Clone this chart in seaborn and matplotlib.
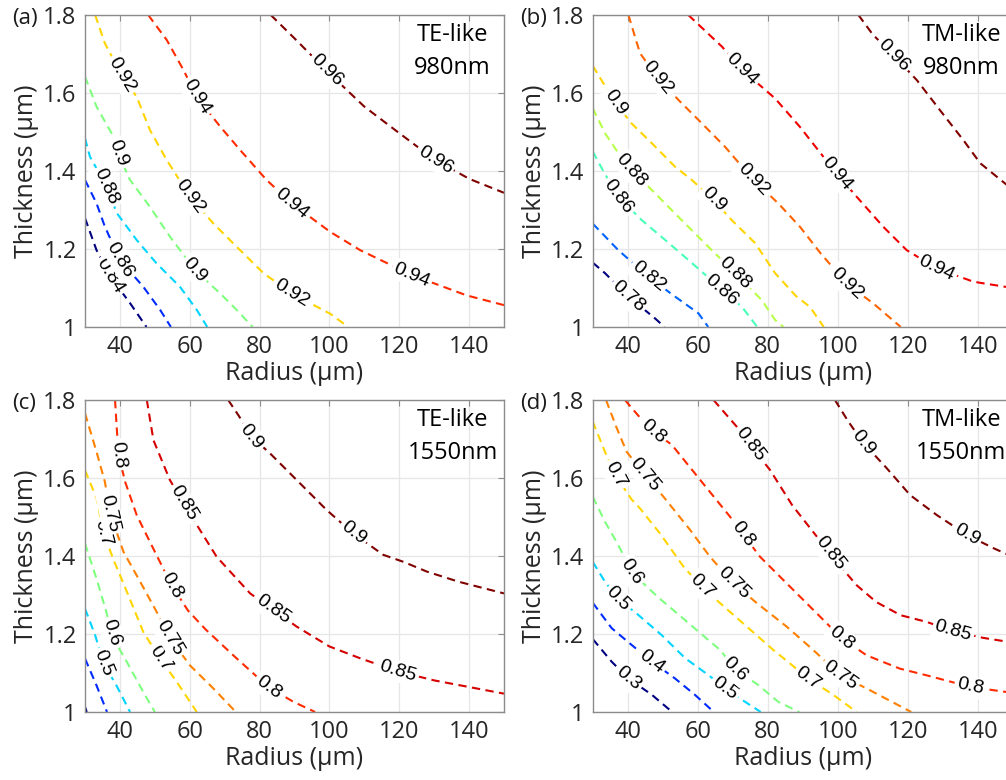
import numpy as np
import pandas as pd
import matplotlib
matplotlib.use("Agg")
import matplotlib.pyplot as plt
from matplotlib.ticker import FuncFormatter
import seaborn as sns

# Contour lines: level -> (radius um, thickness um)
TE980 = {
    0.84: ([30, 33.3, 37.2, 42.9, 47.6], [1.279, 1.197, 1.13, 1.061, 1.0]),
    0.86: ([30, 33.3, 35.7, 40, 46.7, 51.5, 54.6], [1.377, 1.317, 1.257, 1.172, 1.103, 1.044, 1.0]),
    0.88: ([30, 31.4, 36.2, 39.1, 44.8, 50.5, 57.2, 62, 65],
           [1.484, 1.437, 1.36, 1.292, 1.223, 1.163, 1.103, 1.044, 1.0]),
    0.90: ([30, 33.3, 37.6, 39.5, 42.9, 48.6, 54.3, 61.5, 68.7, 73.4, 78],
           [1.642, 1.565, 1.497, 1.445, 1.377, 1.308, 1.232, 1.146, 1.086, 1.044, 1.0]),
    0.92: ([32.9, 35.7, 40.5, 44.8, 48.6, 53.4, 60.1, 66.7, 73.4, 81.1, 89.2, 100.2, 105.4],
           [1.8, 1.727, 1.646, 1.59, 1.505, 1.428, 1.334, 1.266, 1.206, 1.138, 1.086, 1.034, 1.0]),
    0.94: ([48.1, 53.4, 58.2, 62, 68.7, 74.4, 82, 89.2, 100.2, 108.8, 123.6, 139.3, 150],
           [1.8, 1.736, 1.659, 1.59, 1.514, 1.454, 1.377, 1.317, 1.244, 1.197, 1.133, 1.081, 1.056]),
    0.96: ([83.2, 90, 100, 110, 120, 130, 140, 150],
           [1.8, 1.74, 1.65, 1.565, 1.497, 1.43, 1.38, 1.344]),
}
TE980_LABELS = [(0.84, 37.2), (0.86, 40), (0.88, 36.2), (0.90, 39.5), (0.90, 61.5),
                (0.92, 40.5), (0.92, 60.1), (0.92, 89.2), (0.94, 62), (0.94, 89.2),
                (0.94, 123.6), (0.96, 99.2), (0.96, 130.3)]

TM980 = {
    0.78: ([30, 33.5, 40.2, 47.8, 50.5], [1.165, 1.138, 1.078, 1.022, 1.0]),
    0.82: ([30, 37.3, 45.9, 53.5, 60.2, 63], [1.265, 1.197, 1.129, 1.078, 1.035, 1.0]),
    0.86: ([30, 33, 37.3, 44, 50.7, 57.3, 62, 66.9, 72.6, 77],
           [1.45, 1.4, 1.334, 1.274, 1.223, 1.172, 1.135, 1.095, 1.052, 1.0]),
    0.88: ([30, 33.5, 37, 41.1, 47.8, 53.5, 59.2, 64, 70.7, 78.3, 82.1, 84.5],
           [1.561, 1.497, 1.45, 1.403, 1.343, 1.291, 1.24, 1.197, 1.138, 1.069, 1.018, 1.0]),
    0.90: ([30, 36.4, 41.1, 46.9, 53.5, 58.3, 64.5, 69.7, 76.4, 82.1, 88, 92.1, 96],
           [1.67, 1.575, 1.522, 1.471, 1.411, 1.377, 1.326, 1.274, 1.215, 1.138, 1.08, 1.051, 1.0]),
    0.92: ([40.2, 43.5, 48.7, 54.5, 60.2, 67.8, 75.9, 83, 89.2, 95, 102.6, 110.2, 118],
           [1.8, 1.702, 1.638, 1.582, 1.531, 1.462, 1.377, 1.317, 1.257, 1.19, 1.111, 1.06, 1.0]),
    0.94: ([57.3, 66.9, 72.6, 82.1, 89.2, 99.7, 105.4, 113, 119.7, 128.3, 138.8, 150],
           [1.8, 1.719, 1.66, 1.586, 1.513, 1.393, 1.334, 1.257, 1.197, 1.15, 1.116, 1.1]),
    0.96: ([105.9, 110, 115.9, 122.6, 129.2, 135.9, 140.7, 147.8, 150],
           [1.8, 1.75, 1.697, 1.633, 1.556, 1.479, 1.42, 1.368, 1.352]),
}
TM980_LABELS = [(0.78, 40.2), (0.82, 45.9), (0.86, 37.3), (0.86, 66.9), (0.88, 41.1),
                (0.88, 70.7), (0.90, 36.4), (0.90, 64.5), (0.92, 48.7), (0.92, 75.9),
                (0.92, 102.6), (0.94, 72.6), (0.94, 99.7), (0.94, 128.3), (0.96, 115.9)]

TE1550 = {
    0.30: ([30, 30.5], [1.013, 1.0]),
    0.40: ([30, 33.3, 36.3], [1.137, 1.068, 1.0]),
    0.50: ([30, 32.9, 35.3, 39, 42.9], [1.265, 1.197, 1.125, 1.068, 1.0]),
    0.60: ([30, 33.3, 36, 38, 42, 46.7, 50], [1.432, 1.342, 1.26, 1.19, 1.128, 1.051, 1.0]),
    0.70: ([30, 33.3, 35.3, 38, 42, 46.7, 51.5, 56.3, 62],
           [1.62, 1.548, 1.46, 1.394, 1.308, 1.205, 1.137, 1.077, 1.0]),
    0.75: ([30, 33.3, 35.7, 37.2, 41, 45.8, 50.5, 54.3, 60, 66.8, 73.2],
           [1.766, 1.667, 1.59, 1.51, 1.411, 1.334, 1.257, 1.19, 1.12, 1.06, 1.0]),
    0.80: ([38.6, 39.1, 39.6, 41.5, 44.8, 48.6, 54.8, 59.5, 64.5, 72.5, 82.5, 89.7, 95.9],
           [1.8, 1.727, 1.66, 1.59, 1.505, 1.436, 1.325, 1.26, 1.212, 1.145, 1.064, 1.026, 1.0]),
    0.85: ([47.7, 49.6, 54.3, 58.2, 62.9, 67.7, 77.3, 83.9, 90.6, 100, 109, 120, 130, 150],
           [1.8, 1.697, 1.595, 1.535, 1.467, 1.398, 1.304, 1.262, 1.219, 1.168, 1.137,
            1.103, 1.081, 1.047]),
    0.90: ([71, 74, 77.7, 83, 90.6, 99.2, 106.8, 115.4, 121.2, 127.9, 137, 150],
           [1.8, 1.76, 1.706, 1.663, 1.595, 1.518, 1.458, 1.403, 1.385, 1.36, 1.334, 1.304]),
}
TE1550_LABELS = [(0.50, 35.3), (0.60, 37.6), (0.70, 35.3), (0.70, 51.5), (0.75, 37.2),
                 (0.75, 54.3), (0.80, 39.6), (0.80, 54.8), (0.80, 82.5), (0.85, 58.2),
                 (0.85, 83.9), (0.85, 119.7), (0.90, 77.7), (0.90, 106.8)]

TM1550 = {
    0.30: ([30, 35.4, 40.2, 46.9, 52.7], [1.187, 1.129, 1.086, 1.044, 1.0]),
    0.40: ([30, 35.4, 41.1, 46.9, 53.5, 59.2, 64.6], [1.28, 1.215, 1.172, 1.129, 1.086, 1.044, 1.0]),
    0.50: ([30, 33.5, 37.3, 43, 49.7, 56.4, 63, 67.8, 72, 78],
           [1.385, 1.334, 1.29, 1.249, 1.197, 1.138, 1.095, 1.061, 1.035, 1.0]),
    0.60: ([30, 33.5, 37.3, 41.1, 45, 49.2, 54.5, 59.7, 66.4, 70.7, 77.3, 83, 89],
           [1.552, 1.488, 1.428, 1.36, 1.325, 1.29, 1.25, 1.21, 1.159, 1.11, 1.069, 1.026, 1.0]),
    0.70: ([30, 33.5, 36.4, 41.1, 43.5, 49.2, 55.9, 61.1, 66.4, 74, 81.6, 91.6, 98.7, 105.4],
           [1.745, 1.667, 1.608, 1.545, 1.522, 1.458, 1.373, 1.321, 1.279, 1.219, 1.159,
            1.086, 1.044, 1.0]),
    0.75: ([33.8, 36.9, 39.7, 45, 50.2, 57.8, 63.5, 70.2, 76.9, 85.4, 93, 100.7, 108.3, 121],
           [1.8, 1.727, 1.667, 1.607, 1.552, 1.467, 1.398, 1.33, 1.279, 1.219, 1.159, 1.094,
            1.06, 1.0]),
    0.80: ([39.2, 43, 47.3, 52.6, 60.7, 69.2, 77.8, 86.4, 95.9, 101, 108.3, 117.8, 125.4, 138, 150],
           [1.8, 1.76, 1.72, 1.685, 1.595, 1.501, 1.398, 1.321, 1.236, 1.19, 1.145, 1.111,
            1.094, 1.064, 1.049]),
    0.85: ([64.5, 71.1, 75, 80.7, 87, 94, 99.2, 105.4, 111, 118, 125.4, 133, 141.6, 150],
           [1.8, 1.732, 1.685, 1.62, 1.53, 1.45, 1.39, 1.325, 1.282, 1.248, 1.231, 1.207,
            1.19, 1.178]),
    0.90: ([99.2, 103, 107.3, 114, 120.7, 128.3, 136.9, 144.5, 150],
           [1.8, 1.745, 1.69, 1.625, 1.556, 1.505, 1.454, 1.42, 1.398]),
}
TM1550_LABELS = [(0.30, 40.2), (0.40, 46.9), (0.50, 37.3), (0.50, 67.8), (0.60, 41.1),
                 (0.60, 70.7), (0.70, 36.4), (0.70, 61.1), (0.70, 91.6), (0.75, 45),
                 (0.75, 70.2), (0.75, 100.7), (0.80, 47.3), (0.80, 73), (0.80, 101.1),
                 (0.80, 137.8), (0.85, 75), (0.85, 97.8), (0.85, 133), (0.90, 107.3),
                 (0.90, 136.9)]

# colour range (min, max level) used for the jet map of each panel
PANELS = [
    ("(a)", "TE-like", "980nm", TE980, TE980_LABELS, (0.84, 0.96)),
    ("(b)", "TM-like", "980nm", TM980, TM980_LABELS, (0.78, 0.96)),
    ("(c)", "TE-like", "1550nm", TE1550, TE1550_LABELS, (0.30, 0.90)),
    ("(d)", "TM-like", "1550nm", TM1550, TM1550_LABELS, (0.30, 0.90)),
]

sns.set_style("whitegrid")
plt.rcParams['font.family'] = ['Open Sans', 'DejaVu Sans']

fig = plt.figure(figsize=(10.06, 7.8), dpi=100)
rects = [[0.0845, 0.5808, 0.4165, 0.4], [0.5892, 0.5808, 0.4175, 0.4],
         [0.0845, 0.0872, 0.4165, 0.4], [0.5892, 0.0872, 0.4175, 0.4]]


def jet(t):
    # MATLAB-style jet
    r = np.clip(1.5 - abs(4 * t - 3), 0, 1)
    g = np.clip(1.5 - abs(4 * t - 2), 0, 1)
    b = np.clip(1.5 - abs(4 * t - 1), 0, 1)
    return (float(r), float(g), float(b))


def fmt(v):
    return ("%g" % v)


for rect, (tag, mode, wl, lines, labels, (vmin, vmax)) in zip(rects, PANELS):
    ax = fig.add_axes(rect)
    ax.set_xlim(30, 150)
    ax.set_ylim(1, 1.8)

    rows = []
    for lev, (r, t) in lines.items():
        for i in range(len(r)):
            rows.append((fmt(lev), i, r[i], t[i]))
    df = pd.DataFrame(rows, columns=["level", "idx", "radius", "thickness"])
    pal = {fmt(lev): jet((lev - vmin) / (vmax - vmin)) for lev in lines}

    sns.lineplot(data=df, x="radius", y="thickness", hue="level", units="level",
                 palette=pal, sort=False, estimator=None, legend=False,
                 linestyle=(0, (4, 2.6)), linewidth=1.5, ax=ax)

    # inline contour labels
    for lev, xl in labels:
        r, t = lines[lev]
        yl = np.interp(xl, r, t)
        p1 = ax.transData.transform((xl - 1.2, np.interp(xl - 1.2, r, t)))
        p2 = ax.transData.transform((xl + 1.2, np.interp(xl + 1.2, r, t)))
        ang = np.degrees(np.arctan2(p2[1] - p1[1], p2[0] - p1[0]))
        ax.text(xl, yl, fmt(lev), rotation=ang, rotation_mode="anchor",
                ha="center", va="center", fontsize=14, family="Liberation Sans",
                color="black", zorder=5,
                bbox=dict(boxstyle="square,pad=0.12", fc="white", ec="none"))

    ax.text(135.3, 1.749, mode, ha="center", va="center", fontsize=17, color="black")
    ax.text(135.3, 1.664, wl, ha="center", va="center", fontsize=17, color="black")

    ax.set_xticks([40, 60, 80, 100, 120, 140])
    ax.set_yticks([1, 1.2, 1.4, 1.6, 1.8])
    ax.yaxis.set_major_formatter(FuncFormatter(lambda v, p: fmt(round(v, 2))))
    ax.grid(True, color="0.9", linewidth=0.9)
    for s in ax.spines.values():
        s.set_color("0.55")
        s.set_linewidth(1.0)
    ax.tick_params(direction="in", top=True, right=True, length=4, width=0.8,
                   color="0.55", labelsize=17, labelcolor="0.15", pad=6)
    ax.set_xlabel("Radius (µm)", fontsize=18, color="0.15", labelpad=1)
    ax.set_ylabel("Thickness (µm)", fontsize=18, color="0.15", labelpad=3)

    fig.text(rect[0] - 0.0725, rect[1] + rect[3] - 0.004, tag, fontsize=16,
             ha="left", va="center", color="0.1")

fig.savefig("out.png", dpi=100)
